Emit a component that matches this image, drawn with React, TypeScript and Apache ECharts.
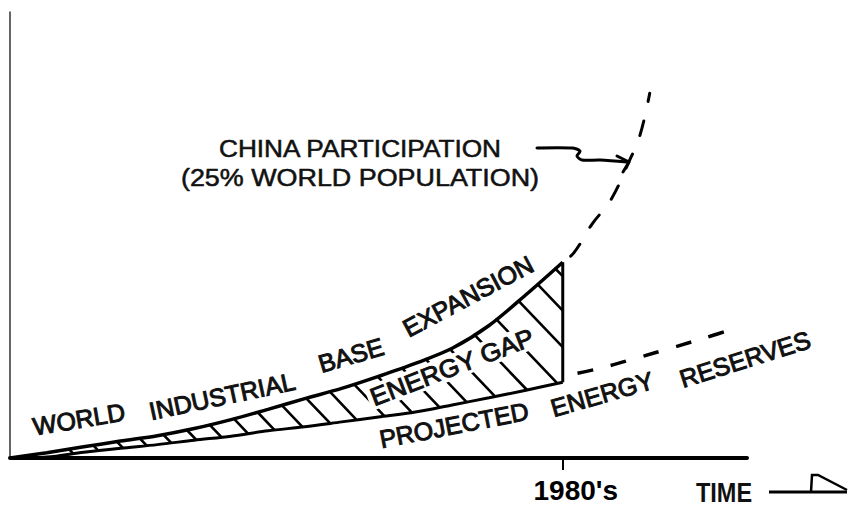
import React, { useEffect, useRef } from "react";
import * as echarts from "echarts";

// Time axis (arbitrary units, 0..100); the 1980's mark sits at 75
const xGrid = [0, 5, 10, 15, 20, 25, 30, 35, 40, 45, 50, 55, 60, 65, 70, 75];
// World industrial base expansion (energy demand)
const demandY = [0, 1.2, 2.5, 3.8, 5.0, 6.6, 8.6, 10.9, 13.3, 15.6, 18.3, 21.2, 24.6, 29.7, 36.6, 43.9];
// Projected energy reserves
const reservesY = [0, 0.2, 1.3, 2.2, 3.0, 4.0, 4.9, 6.1, 7.0, 8.1, 9.2, 10.3, 11.9, 13.5, 15.2, 17.0];
// China participation (dashed continuation of demand)
const chinaX = [75, 76.5, 79, 81.5, 84, 85.5, 86.8];
const chinaY = [43.9, 46, 52.5, 57.8, 66.5, 72.5, 81.8];
// Projected reserves continuation (dashed)
const reservesFutX = [77, 80, 85, 90, 95, 99];
const reservesFutY = [19.0, 20.1, 22.4, 24.8, 27.3, 29.4];
// Hatch line start positions along the demand curve (energy gap)
const hatchX = [8, 11.3, 14.5, 17.6, 20.8, 24, 27.1, 30.4, 33.6, 36.9, 40.2, 43.4, 46.7, 49.9, 53.2, 56.4, 59.7, 63, 66, 69, 71.6, 74];
// Axis tick
const tickValues = [75];
const tickLabels = ["1980's"];

const FONT = '"Liberation Sans", Arial, Helvetica, sans-serif';

function interp(xs: number[], ys: number[], x: number): number {
  if (x <= xs[0]) return ys[0];
  for (let i = 1; i < xs.length; i++) {
    if (x <= xs[i]) {
      const t = (x - xs[i - 1]) / (xs[i] - xs[i - 1]);
      return ys[i - 1] + t * (ys[i] - ys[i - 1]);
    }
  }
  return ys[ys.length - 1];
}

const deg = (d: number) => (d * Math.PI) / 180;

function label(text: string, x: number, y: number, angle: number, extra: any = {}) {
  return {
    type: "text",
    x,
    y,
    z: 100,
    rotation: deg(angle),
    scaleX: extra.scaleX ?? 1.0,
    style: {
      text,
      fill: "#111",
      stroke: "#111",
      lineWidth: extra.lineWidth ?? 1.0,
      fontSize: extra.fontSize ?? 25,
      fontWeight: extra.fontWeight ?? "normal",
      fontFamily: FONT,
      align: "center",
      verticalAlign: "middle",
      ...(extra.style || {}),
    },
  };
}

export default function App() {
  const ref = useRef<HTMLDivElement>(null);

  useEffect(() => {
    if (!ref.current) return;
    const chart = echarts.init(ref.current, undefined, { renderer: "svg" });
    const last = xGrid.length - 1;

    const option: any = {
      animation: false,
      backgroundColor: "#fff",
      grid: { left: 10, right: 101, top: 12, bottom: 52 },
      xAxis: {
        type: "value",
        min: 0,
        max: 100,
        axisLine: { show: true, lineStyle: { color: "#000", width: 4 } },
        axisTick: {
          show: true,
          customValues: tickValues,
          length: 12,
          lineStyle: { color: "#000", width: 2 },
        },
        axisLabel: {
          show: true,
          customValues: tickValues,
          formatter: (v: number) => {
            const i = tickValues.indexOf(v);
            return i >= 0 ? tickLabels[i] : "";
          },
          color: "#000",
          fontSize: 28,
          fontWeight: "bold",
          fontFamily: FONT,
          margin: 18,
          padding: [0, 0, 0, 26],
        },
        splitLine: { show: false },
      },
      yAxis: {
        type: "value",
        min: 0,
        max: 100,
        axisLine: { show: true, lineStyle: { color: "#333", width: 1.5 } },
        axisTick: { show: false },
        axisLabel: { show: false },
        splitLine: { show: false },
      },
      series: [
        {
          type: "custom",
          name: "Energy gap hatch",
          z: 2,
          silent: true,
          data: hatchX.map((x) => [x, 0]),
          renderItem: (params: any, api: any) => {
            const x0 = api.value(0);
            const top = api.coord([x0, interp(xGrid, demandY, x0)]);
            const a = api.coord([0, 0]);
            const b = api.coord([100, 100]);
            const pxPerX = (b[0] - a[0]) / 100;
            const pxPerY = (a[1] - b[1]) / 100;
            const xEnd = api.coord([xGrid[last], 0])[0];
            const k = 1.05;
            let px = top[0];
            let py = top[1];
            for (let s = 0; s < 400; s++) {
              const nx = px + 0.5;
              const ny = py + 0.5 * k;
              if (nx >= xEnd) {
                px = xEnd;
                break;
              }
              const xd = (nx - a[0]) / pxPerX;
              const low = a[1] - interp(xGrid, reservesY, xd) * pxPerY;
              if (ny >= low) break;
              px = nx;
              py = ny;
            }
            return {
              type: "line",
              shape: { x1: top[0], y1: top[1], x2: px, y2: py },
              style: { stroke: "#000", lineWidth: 2.6, lineCap: "round" },
            };
          },
        },
        {
          type: "line",
          name: "World industrial base expansion",
          z: 3,
          data: xGrid.map((x, i) => [x, demandY[i]]),
          smooth: 0.3,
          symbol: "none",
          lineStyle: { color: "#000", width: 3.5 },
        },
        {
          type: "line",
          name: "Projected energy reserves",
          z: 3,
          data: xGrid.map((x, i) => [x, reservesY[i]]),
          smooth: 0.3,
          symbol: "none",
          lineStyle: { color: "#000", width: 3 },
        },
        {
          type: "line",
          name: "Gap edge",
          z: 3,
          data: [
            [xGrid[last], reservesY[last]],
            [xGrid[last], demandY[last]],
          ],
          symbol: "none",
          lineStyle: { color: "#000", width: 3 },
        },
        {
          type: "line",
          name: "China participation",
          z: 3,
          data: chinaX.map((x, i) => [x, chinaY[i]]),
          smooth: 0.4,
          symbol: "none",
          lineStyle: { color: "#000", width: 3, type: [15, 20], dashOffset: 25, cap: "round" },
        },
        {
          type: "line",
          name: "Projected reserves (future)",
          z: 3,
          data: reservesFutX.map((x, i) => [x, reservesFutY[i]]),
          smooth: 0.4,
          symbol: "none",
          lineStyle: { color: "#000", width: 3.5, type: [16, 18] },
        },
      ],
      graphic: [
        label("CHINA PARTICIPATION", 360, 149, 0, { fontSize: 23, scaleX: 1.14, lineWidth: 0.5 }),
        label("(25% WORLD POPULATION)", 360, 178, 0, { fontSize: 23, scaleX: 1.17, lineWidth: 0.5 }),
        {
          type: "polyline",
          z: 100,
          shape: {
            points: [
              [537, 148],
              [572, 148],
              [580, 151],
              [577, 156],
              [582, 160],
              [600, 160],
              [627, 162],
            ],
            smooth: 0.3,
          },
          style: { stroke: "#000", lineWidth: 3, fill: null, lineCap: "round" },
        },
        {
          type: "polyline",
          z: 100,
          shape: {
            points: [
              [617, 156],
              [629, 162],
              [623, 172],
            ],
          },
          style: { stroke: "#000", lineWidth: 3, fill: null, lineCap: "round", lineJoin: "round" },
        },
        label("WORLD", 79, 419, 9.5),
        label("INDUSTRIAL", 222, 396, 12),
        label("BASE", 351, 355, 16.5),
        label("EXPANSION", 468, 296, 28),
        label("ENERGY GAP", 452, 367, 21, {
          scaleX: 1.05,
          style: { backgroundColor: "#fff", padding: [0, 3] },
        }),
        label("PROJECTED", 454, 425, 11),
        label("ENERGY", 602, 394, 16),
        label("RESERVES", 745, 359, 17.5),
        label("TIME", 724, 492, 0, { fontSize: 28, fontWeight: "bold", scaleX: 0.84, lineWidth: 0 }),
        {
          type: "line",
          z: 100,
          shape: { x1: 769, y1: 492, x2: 847, y2: 492 },
          style: { stroke: "#000", lineWidth: 3 },
        },
        {
          type: "polyline",
          z: 100,
          shape: {
            points: [
              [811, 492],
              [812, 475],
              [818, 475],
              [847, 490],
            ],
          },
          style: { stroke: "#000", lineWidth: 2.5, fill: null, lineJoin: "miter" },
        },
      ],
    };

    chart.setOption(option);
    return () => chart.dispose();
  }, []);

  return (
    <div
      ref={ref}
      style={{ position: "absolute", left: 0, top: 0, width: 848, height: 510, background: "#fff" }}
    />
  );
}
